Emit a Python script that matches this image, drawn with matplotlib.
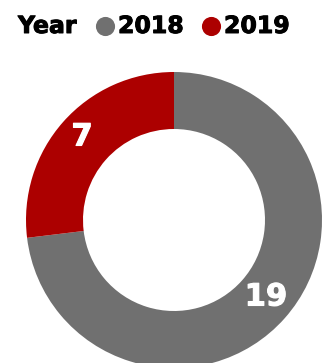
import matplotlib
matplotlib.use("Agg")
import matplotlib.pyplot as plt
import matplotlib.patheffects as pe

years = ["2018", "2019"]
counts = [19, 7]
colors = ["#707070", "#ac0000"]

W, H = 323, 363
fig = plt.figure(figsize=(W / 100, H / 100), dpi=100)
ax = fig.add_axes([0, 0, 1, 1])

# donut, 2018 runs clockwise from 12 o'clock
cx, cy, r = 174, H - 220, 148
ax.pie(counts, colors=colors, startangle=90, counterclock=False,
       radius=r, center=(cx, cy), frame=True,
       wedgeprops=dict(width=57, linewidth=0))
ax.set_xlim(0, W)
ax.set_ylim(0, H)
ax.set_aspect("equal")
ax.axis("off")

heavy_white = [pe.Stroke(linewidth=0.8, foreground="white"), pe.Normal()]
heavy_black = [pe.Stroke(linewidth=0.7, foreground="black"), pe.Normal()]

# value labels inside the ring
label_pos = [(266, H - 297), (82, H - 137)]
for (x, y), v in zip(label_pos, counts):
    ax.text(x, y, str(v), color="white", fontsize=22, fontweight="bold",
            ha="center", va="center", family="DejaVu Sans",
            path_effects=heavy_white)

# legend row
ly = H - 26
ax.text(18, ly, "Year", fontsize=17, fontweight="bold", ha="left", va="center",
        family="DejaVu Sans", path_effects=heavy_black)
marker_x = [105, 211]
for mx, yr, c in zip(marker_x, years, colors):
    ax.scatter([mx], [ly], s=190, color=c, linewidths=0)
    ax.text(mx + 13, ly, yr, fontsize=17, fontweight="bold", ha="left",
            va="center", family="DejaVu Sans", path_effects=heavy_black)

fig.savefig("out.png", dpi=100)
